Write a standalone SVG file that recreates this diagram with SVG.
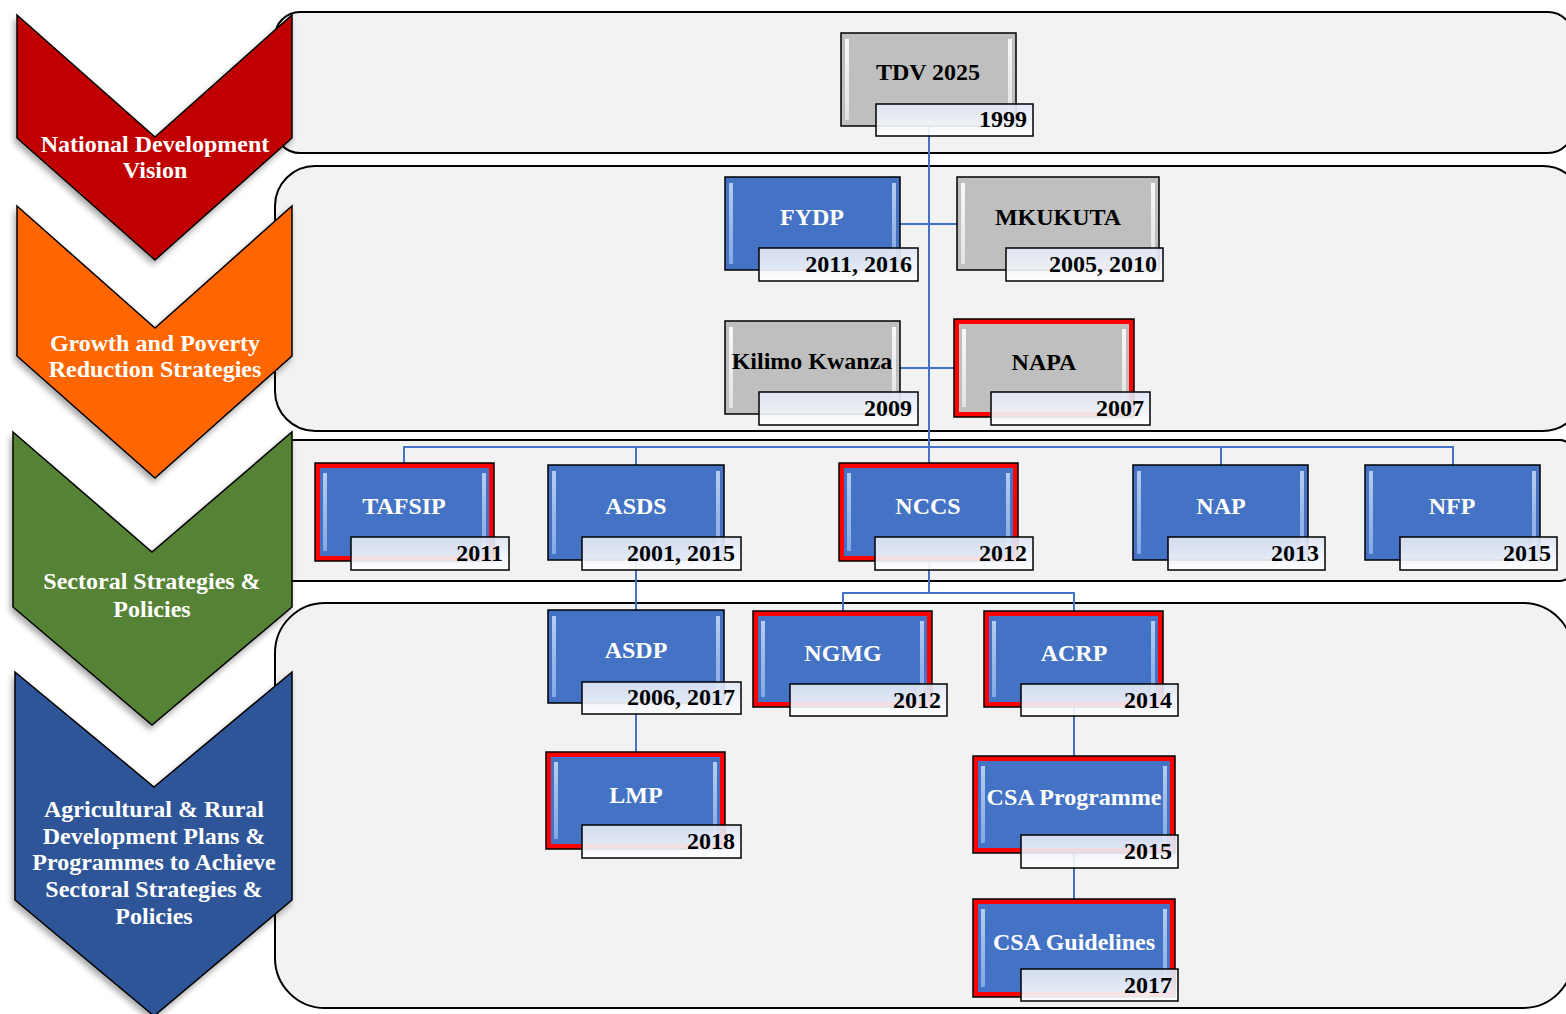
<svg xmlns="http://www.w3.org/2000/svg" width="1566" height="1014" viewBox="0 0 1566 1014">
<defs>
<filter id="sh" x="-10%" y="-10%" width="130%" height="130%">
<feGaussianBlur in="SourceAlpha" stdDeviation="3"/>
<feOffset dx="-2" dy="4" result="o"/>
<feComponentTransfer><feFuncA type="linear" slope="0.35"/></feComponentTransfer>
<feMerge><feMergeNode/><feMergeNode in="SourceGraphic"/></feMerge>
</filter>
<linearGradient id="dg" x1="0" y1="0" x2="0" y2="1">
<stop offset="0" stop-color="#dfe6f4" stop-opacity="0.92"/>
<stop offset="0.55" stop-color="#f1f4fa" stop-opacity="0.9"/>
<stop offset="1" stop-color="#ffffff" stop-opacity="0.92"/>
</linearGradient>
<linearGradient id="bvb" x1="0" y1="0" x2="0" y2="1">
<stop offset="0" stop-color="#c9dcf6"/>
<stop offset="1" stop-color="#8db2ea"/>
</linearGradient>
<linearGradient id="bvg" x1="0" y1="0" x2="0" y2="1">
<stop offset="0" stop-color="#ffffff"/>
<stop offset="1" stop-color="#e6e6e6"/>
</linearGradient>
</defs>
<style>
.panel{fill:#f2f2f2;stroke:#000;stroke-width:2}
.chev{stroke:#000;stroke-width:1.5;filter:url(#sh)}
.ct{font-family:"Liberation Serif","Times New Roman",serif;font-weight:bold;font-size:24px;fill:#fff;text-anchor:middle}
.blue{fill:#4472c4}
.grey{fill:#bfbfbf}
.box{stroke:#000;stroke-width:1.5}
.frame{fill:#ff0000;stroke:#000;stroke-width:1.5}
.bb{fill:url(#bvb);opacity:0.85}
.bg{fill:url(#bvg);opacity:0.9}
.lbl{font-family:"Liberation Serif","Times New Roman",serif;font-weight:bold;font-size:24px;text-anchor:middle}
.w{fill:#fff}
.k{fill:#000}
.date{fill:url(#dg);stroke:#000;stroke-width:1.5}
.dt{font-family:"Liberation Serif","Times New Roman",serif;font-weight:bold;font-size:24px;text-anchor:end;fill:#000}
.con{stroke:#4472c4;stroke-width:2;fill:none}
</style>
<rect width="1566" height="1014" fill="#fff"/>
<g id="panels">
<rect class="panel" x="275" y="12" width="1298" height="141" rx="25"/>
<rect class="panel" x="275" y="166" width="1308" height="265" rx="40"/>
<rect class="panel" x="280" y="440" width="1292" height="141" rx="12"/>
<rect class="panel" x="275" y="603" width="1298" height="405" rx="50"/>
</g>
<g id="chevron-vision">
<polygon class="chev" fill="#c00000" points="17,15 155,137 292,15 292,138 155,260 17,138"/>
<text class="ct" x="155" y="152">National Development</text>
<text class="ct" x="155" y="178">Vision</text>
</g>
<g id="chevron-growth">
<polygon class="chev" fill="#ff6600" points="17,206 155,328 292,206 292,356 155,478 17,356"/>
<text class="ct" x="155" y="351">Growth and Poverty</text>
<text class="ct" x="155" y="377">Reduction Strategies</text>
</g>
<g id="chevron-sectoral">
<polygon class="chev" fill="#548235" points="13,432 152,552 292,432 292,607 152,725 13,607"/>
<text class="ct" x="152" y="589">Sectoral Strategies &amp;</text>
<text class="ct" x="152" y="617">Policies</text>
</g>
<g id="chevron-agri">
<polygon class="chev" fill="#2f5597" points="15,672 154,787 292,672 292,900 154,1016 15,900"/>
<text class="ct" x="154" y="817">Agricultural &amp; Rural</text>
<text class="ct" x="154" y="844">Development Plans &amp;</text>
<text class="ct" x="154" y="870">Programmes to Achieve</text>
<text class="ct" x="154" y="897">Sectoral Strategies &amp;</text>
<text class="ct" x="154" y="924">Policies</text>
</g>
<g id="connectors">
<line class="con" x1="929" y1="126" x2="929" y2="463"/>
<line class="con" x1="900" y1="224" x2="957" y2="224"/>
<line class="con" x1="900" y1="368" x2="954" y2="368"/>
<polyline class="con" points="404,463 404,447 1453,447 1453,465"/>
<line class="con" x1="636" y1="447" x2="636" y2="465"/>
<line class="con" x1="1221" y1="447" x2="1221" y2="465"/>
<line class="con" x1="929" y1="560" x2="929" y2="593"/>
<polyline class="con" points="843,611 843,593 1074,593 1074,611"/>
<line class="con" x1="636" y1="560" x2="636" y2="610"/>
<line class="con" x1="636" y1="703" x2="636" y2="752"/>
<line class="con" x1="1074" y1="707" x2="1074" y2="756"/>
<line class="con" x1="1074" y1="853" x2="1074" y2="899"/>
</g>
<g id="n-tdv">
<rect class="box grey" x="841" y="33" width="175" height="93"/>
<rect class="bg" x="845" y="39" width="4" height="81"/><rect class="bg" x="1008" y="39" width="4" height="81"/>
<text class="lbl k" x="928" y="80">TDV 2025</text>
<rect class="date" x="876" y="104" width="157" height="32"/>
<text class="dt" x="1027" y="127">1999</text>
</g>
<g id="n-fydp">
<rect class="box blue" x="725" y="177" width="175" height="93"/>
<rect class="bb" x="729" y="183" width="4" height="81"/><rect class="bb" x="892" y="183" width="4" height="81"/>
<text class="lbl w" x="812" y="225">FYDP</text>
<rect class="date" x="759" y="248" width="159" height="33"/>
<text class="dt" x="912" y="272">2011, 2016</text>
</g>
<g id="n-mkukuta">
<rect class="box grey" x="957" y="177" width="202" height="93"/>
<rect class="bg" x="961" y="183" width="4" height="81"/><rect class="bg" x="1151" y="183" width="4" height="81"/>
<text class="lbl k" x="1058" y="225">MKUKUTA</text>
<rect class="date" x="1006" y="248" width="157" height="33"/>
<text class="dt" x="1157" y="272">2005, 2010</text>
</g>
<g id="n-kilimo">
<rect class="box grey" x="725" y="321" width="175" height="93"/>
<rect class="bg" x="729" y="327" width="4" height="81"/><rect class="bg" x="892" y="327" width="4" height="81"/>
<text class="lbl k" x="812" y="369">Kilimo Kwanza</text>
<rect class="date" x="759" y="392" width="159" height="33"/>
<text class="dt" x="912" y="416">2009</text>
</g>
<g id="n-napa">
<rect class="frame" x="954" y="319" width="180" height="98"/>
<rect class="grey" x="959" y="324" width="170" height="88"/>
<rect class="bg" x="962" y="329" width="4" height="78"/><rect class="bg" x="1122" y="329" width="4" height="78"/>
<text class="lbl k" x="1044" y="370">NAPA</text>
<rect class="date" x="991" y="392" width="159" height="33"/>
<text class="dt" x="1144" y="416">2007</text>
</g>
<g id="n-tafsip">
<rect class="frame" x="315" y="463" width="179" height="98"/>
<rect class="blue" x="320" y="468" width="169" height="88"/>
<rect class="bb" x="323" y="473" width="4" height="78"/><rect class="bb" x="482" y="473" width="4" height="78"/>
<text class="lbl w" x="404" y="514">TAFSIP</text>
<rect class="date" x="351" y="537" width="158" height="33"/>
<text class="dt" x="503" y="561">2011</text>
</g>
<g id="n-asds">
<rect class="box blue" x="548" y="465" width="176" height="95"/>
<rect class="bb" x="552" y="471" width="4" height="83"/><rect class="bb" x="716" y="471" width="4" height="83"/>
<text class="lbl w" x="636" y="514">ASDS</text>
<rect class="date" x="582" y="537" width="159" height="33"/>
<text class="dt" x="735" y="561">2001, 2015</text>
</g>
<g id="n-nccs">
<rect class="frame" x="839" y="463" width="179" height="98"/>
<rect class="blue" x="844" y="468" width="169" height="88"/>
<rect class="bb" x="847" y="473" width="4" height="78"/><rect class="bb" x="1006" y="473" width="4" height="78"/>
<text class="lbl w" x="928" y="514">NCCS</text>
<rect class="date" x="875" y="537" width="158" height="33"/>
<text class="dt" x="1027" y="561">2012</text>
</g>
<g id="n-nap">
<rect class="box blue" x="1133" y="465" width="175" height="95"/>
<rect class="bb" x="1137" y="471" width="4" height="83"/><rect class="bb" x="1300" y="471" width="4" height="83"/>
<text class="lbl w" x="1221" y="514">NAP</text>
<rect class="date" x="1168" y="537" width="157" height="33"/>
<text class="dt" x="1319" y="561">2013</text>
</g>
<g id="n-nfp">
<rect class="box blue" x="1365" y="465" width="175" height="95"/>
<rect class="bb" x="1369" y="471" width="4" height="83"/><rect class="bb" x="1532" y="471" width="4" height="83"/>
<text class="lbl w" x="1452" y="514">NFP</text>
<rect class="date" x="1400" y="537" width="157" height="33"/>
<text class="dt" x="1551" y="561">2015</text>
</g>
<g id="n-asdp">
<rect class="box blue" x="548" y="610" width="176" height="93"/>
<rect class="bb" x="552" y="616" width="4" height="81"/><rect class="bb" x="716" y="616" width="4" height="81"/>
<text class="lbl w" x="636" y="658">ASDP</text>
<rect class="date" x="582" y="682" width="159" height="32"/>
<text class="dt" x="735" y="705">2006, 2017</text>
</g>
<g id="n-ngmg">
<rect class="frame" x="753" y="611" width="179" height="96"/>
<rect class="blue" x="758" y="616" width="169" height="86"/>
<rect class="bb" x="761" y="621" width="4" height="76"/><rect class="bb" x="920" y="621" width="4" height="76"/>
<text class="lbl w" x="843" y="661">NGMG</text>
<rect class="date" x="790" y="684" width="157" height="32"/>
<text class="dt" x="941" y="708">2012</text>
</g>
<g id="n-acrp">
<rect class="frame" x="984" y="611" width="179" height="96"/>
<rect class="blue" x="989" y="616" width="169" height="86"/>
<rect class="bb" x="992" y="621" width="4" height="76"/><rect class="bb" x="1151" y="621" width="4" height="76"/>
<text class="lbl w" x="1074" y="661">ACRP</text>
<rect class="date" x="1021" y="684" width="157" height="32"/>
<text class="dt" x="1172" y="708">2014</text>
</g>
<g id="n-lmp">
<rect class="frame" x="546" y="752" width="179" height="97"/>
<rect class="blue" x="551" y="757" width="169" height="87"/>
<rect class="bb" x="554" y="762" width="4" height="77"/><rect class="bb" x="713" y="762" width="4" height="77"/>
<text class="lbl w" x="636" y="803">LMP</text>
<rect class="date" x="582" y="825" width="159" height="33"/>
<text class="dt" x="735" y="849">2018</text>
</g>
<g id="n-csaprog">
<rect class="frame" x="973" y="756" width="202" height="97"/>
<rect class="blue" x="978" y="761" width="192" height="87"/>
<rect class="bb" x="981" y="766" width="4" height="77"/><rect class="bb" x="1163" y="766" width="4" height="77"/>
<text class="lbl w" x="1074" y="805">CSA Programme</text>
<rect class="date" x="1021" y="835" width="157" height="33"/>
<text class="dt" x="1172" y="859">2015</text>
</g>
<g id="n-csaguide">
<rect class="frame" x="973" y="899" width="202" height="98"/>
<rect class="blue" x="978" y="904" width="192" height="88"/>
<rect class="bb" x="981" y="909" width="4" height="78"/><rect class="bb" x="1163" y="909" width="4" height="78"/>
<text class="lbl w" x="1074" y="950">CSA Guidelines</text>
<rect class="date" x="1021" y="969" width="157" height="32"/>
<text class="dt" x="1172" y="993">2017</text>
</g>
</svg>
